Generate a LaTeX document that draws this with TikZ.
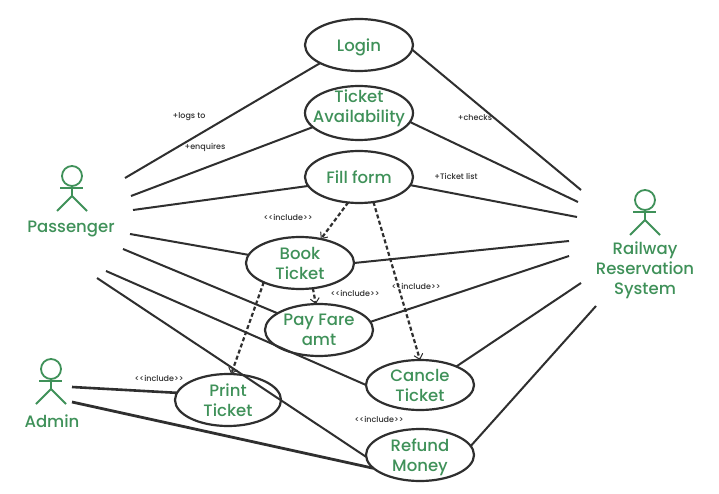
\documentclass[tikz,border=0pt]{standalone}
\usepackage{fontspec}
\setmainfont{Poppins Medium}
\usetikzlibrary{arrows.meta,shapes.geometric}
\definecolor{gfg}{HTML}{3F9159}
\definecolor{ink}{HTML}{2F2F2F}
\tikzset{
  usecase/.style={ellipse,draw=ink,line width=2.2pt,fill=white,inner sep=-14pt,outer sep=0pt,minimum width=108pt,minimum height=52pt,align=center,text=gfg,font=\fontsize{16.5}{20}\selectfont},
  actorname/.style={text=gfg,align=center,font=\fontsize{16.5}{20}\selectfont,inner sep=0pt},
  assoc/.style={draw=ink,line width=2pt},
  incl/.style={draw=ink,line width=2.2pt,dash pattern=on 4pt off 2.5pt,-{Straight Barb[length=5pt,width=9pt,line width=1pt]}},
  note/.style={text=ink,font=\fontsize{8}{10}\selectfont,inner sep=0pt},
  limb/.style={draw=gfg,line width=1.8pt}
}
\newcommand{\stick}[3]{% x, y of head centre
  \draw[limb] (#1,#2) circle (10);
  \draw[limb] (#1-12,#2+12) -- (#1+11,#2+12);
  \draw[limb] (#1,#2+10) -- (#1,#2+20);
  \draw[limb] (#1-15,#2+35) -- (#1,#2+20) -- (#1+15,#2+35);
}
\begin{document}
\begin{tikzpicture}[x=1pt,y=-1pt]
\useasboundingbox (0,0) rectangle (719,494);
\fill[white] (0,0) rectangle (719,494);

\node[usecase,text depth=0pt] (login) at (359,45) {Login};
\node[usecase,minimum height=54pt,inner xsep=-45pt,text depth=14pt] (avail) at (359,113) {Ticket\\Availability};
\node[usecase] (fill) at (359,177) {Fill form};
\node[usecase] (book) at (300,263) {Book\\Ticket};
\node[usecase] (pay) at (319,330) {Pay Fare\\amt};
\node[usecase,minimum height=50pt] (cancle) at (420,385) {Cancle\\Ticket};
\node[usecase,minimum width=106pt] (print) at (228,400) {Print\\Ticket};
\node[usecase,text depth=0pt] (refund) at (420,455) {Refund\\Money};

\stick{72}{176}{}
\stick{51}{369}{}
\stick{645}{200}{}
\node[actorname,text depth=0pt] (passenger) at (71,227) {Passenger};
\node[actorname] (admin) at (52,421) {Admin};
\node[actorname,text depth=0pt] (railway) at (645,268) {Railway\\Reservation\\System};

\coordinate (p1) at (125,178);
\coordinate (p2) at (131,196);
\coordinate (p3) at (133,210);
\coordinate (p4) at (130,234);
\coordinate (p5) at (123,249);
\coordinate (p6) at (106,271);
\coordinate (p7) at (97,278);
\coordinate (r1) at (581,190);
\coordinate (r2) at (578,202);
\coordinate (r3) at (577,217);
\coordinate (r4) at (569,241);
\coordinate (r5) at (569,256);
\coordinate (r6) at (581,283);
\coordinate (r7) at (596,306);
\coordinate (a1) at (72,387);
\coordinate (a2) at (72,402);

\draw[assoc] (p1) -- (login.205);
\draw[assoc] (p2) -- (avail.197);
\draw[assoc] (p3) -- (fill.190);
\draw[assoc] (p4) -- (book.171);
\draw[assoc] (p5) -- (pay.158);
\draw[assoc] (p6) -- (cancle.180);
\draw[assoc] (p7) -- (refund.182);
\draw[assoc] (r1) -- (login.355);
\draw[assoc] (r2) -- (avail.350);
\draw[assoc] (r3) -- (fill.351);
\draw[assoc] (r4) -- (book.0);
\draw[assoc] (r5) -- (pay.9);
\draw[assoc] (r6) -- (cancle.27);
\draw[assoc] (r7) -- (refund.10);
\draw[assoc,line width=2.6pt] (a1) -- (print.172);
\draw[assoc,line width=2.8pt] (a2) -- (refund.196);

\draw[incl] (fill.247) -- (book.49);
\draw[incl] (fill.300) -- (cancle.90);
\draw[incl] (book.297) -- (pay.97);
\draw[incl] (book.208) -- (print.83);

\node[note] (n1) at (189,117) {+logs to};
\node[note] (n2) at (205,147) {+enquires};
\node[note] (n3) at (475,118) {+checks};
\node[note] (n4) at (456,176) {+Ticket list};
\node[note] (n5) at (288,217) {<{}<include>{}>};
\node[note] (n6) at (355,293) {<{}<include>{}>};
\node[note] (n7) at (416,286) {<{}<include>{}>};
\node[note] (n8) at (159,378) {<{}<include>{}>};
\node[note] (n9) at (379,419) {<{}<include>{}>};
\end{tikzpicture}
\end{document}
